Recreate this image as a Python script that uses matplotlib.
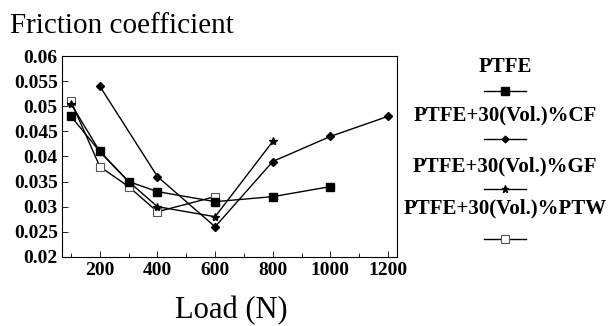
import matplotlib
matplotlib.use("Agg")
import matplotlib.pyplot as plt
from matplotlib.lines import Line2D

plt.rcParams['font.family'] = ['Liberation Serif', 'DejaVu Serif']

# Data
load_ptfe = [100, 200, 300, 400, 600, 800, 1000]
mu_ptfe = [0.048, 0.041, 0.035, 0.033, 0.031, 0.032, 0.034]
load_cf = [200, 400, 600, 800, 1000, 1200]
mu_cf = [0.054, 0.036, 0.026, 0.039, 0.044, 0.048]
load_gf = [100, 200, 300, 400, 600, 800]
mu_gf = [0.0505, 0.041, 0.035, 0.030, 0.028, 0.043]
load_ptw = [100, 200, 300, 400, 600]
mu_ptw = [0.051, 0.038, 0.034, 0.029, 0.032]

series_labels = ["PTFE", "PTFE+30(Vol.)%CF", "PTFE+30(Vol.)%GF", "PTFE+30(Vol.)%PTW"]
y_ticks = [0.02, 0.025, 0.03, 0.035, 0.04, 0.045, 0.05, 0.055, 0.06]
y_ticklabels = ["0.02", "0.025", "0.03", "0.035", "0.04", "0.045", "0.05", "0.055", "0.06"]
x_ticks = [200, 400, 600, 800, 1000, 1200]

fig = plt.figure(figsize=(6.08, 3.26), dpi=100)
ax = fig.add_axes([0.102, 0.212, 0.551, 0.616])

styles = [
    dict(marker='s', markersize=6, markerfacecolor='black', markeredgecolor='black'),
    dict(marker='D', markersize=4, markerfacecolor='black', markeredgecolor='black'),
    dict(marker='*', markersize=6, markerfacecolor='black', markeredgecolor='black'),
    dict(marker='s', markersize=6, markerfacecolor='white', markeredgecolor='#555555', markeredgewidth=0.8),
]
data = [(load_ptfe, mu_ptfe), (load_cf, mu_cf), (load_gf, mu_gf), (load_ptw, mu_ptw)]
order = [3, 2, 1, 0]
for i in order:
    x, y = data[i]
    ax.plot(x, y, color='black', linewidth=1.0, zorder=2 + (3 - i), **styles[i])

ax.set_xlim(69, 1231)
ax.set_ylim(0.02, 0.06)
ax.set_yticks(y_ticks)
ax.set_yticklabels(y_ticklabels, fontweight='bold', fontsize=14)
ax.set_xticks(x_ticks)
ax.set_xticklabels([str(v) for v in x_ticks], fontweight='bold', fontsize=14)
ax.set_xticks([100, 300, 500, 700, 900, 1100], minor=True)
ax.tick_params(direction='in', length=4, width=0.6, pad=4)
ax.tick_params(axis='y', pad=3)
ax.tick_params(which='minor', direction='in', length=3, width=0.6)
for s in ax.spines.values():
    s.set_linewidth(0.8)

fig.text(10 / 608, 1 - 33 / 326, "Friction coefficient", fontsize=21, ha='left', va='baseline')
fig.text(231 / 608, 1 - 318 / 326, "Load (N)", fontsize=22, ha='center', va='baseline')

# Legend drawn manually
lx = 505 / 608
label_y = [67, 115, 166, 208]
line_y = [91, 139, 189, 239]
half = 21 / 608
for i in range(4):
    fig.text(lx, 1 - label_y[i] / 326, series_labels[i], fontsize=15, fontweight='bold',
             ha='center', va='center')
    yy = 1 - line_y[i] / 326
    st = dict(styles[i])
    fig.add_artist(Line2D([lx - half, lx + half], [yy, yy], color='black', linewidth=1.0,
                          transform=fig.transFigure))
    fig.add_artist(Line2D([lx], [yy], color='black', linewidth=0,
                          transform=fig.transFigure, **{k: (v if k != 'markersize' else v * 0.85) for k, v in st.items()}))

fig.savefig("out.png", dpi=100)
